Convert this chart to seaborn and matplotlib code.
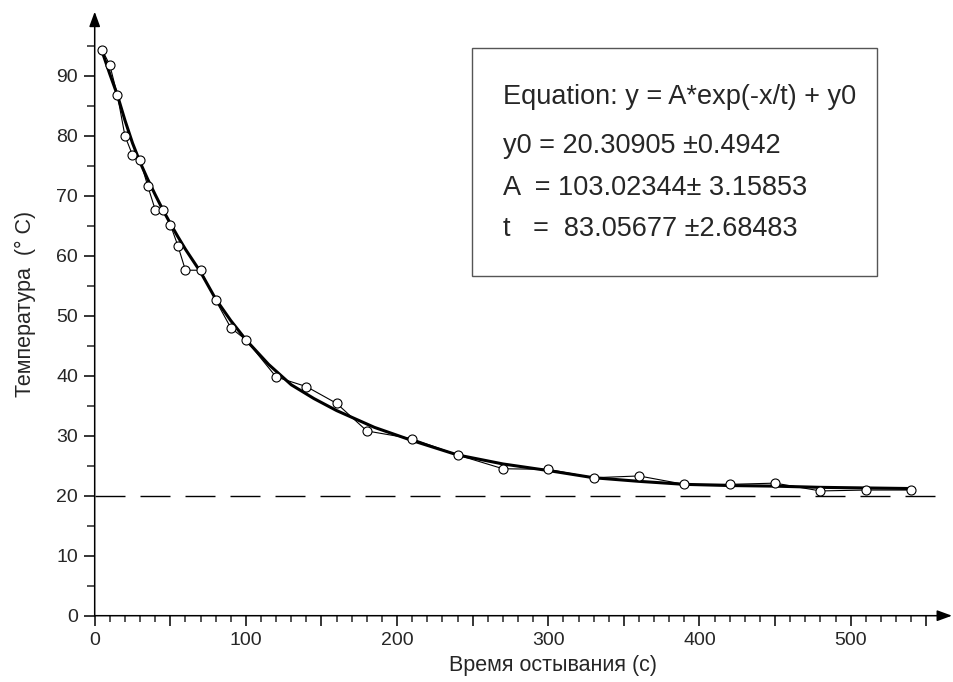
import pandas as pd
import seaborn as sns
from matplotlib import pyplot as plt
from matplotlib.patches import Rectangle
from matplotlib.ticker import FixedLocator

# Данные: время остывания (с) и температура (°C)
time_s = [5, 10, 15, 20, 25, 30, 35, 40, 45, 50, 55, 60, 70, 80, 90, 100,
          120, 140, 160, 180, 210, 240, 270, 300, 330, 360, 390, 420, 450,
          480, 510, 540]
temp_c = [94.3, 91.8, 86.8, 80.0, 76.8, 76.0, 71.7, 67.7, 67.7, 65.2, 61.7,
          57.6, 57.6, 52.6, 48.0, 46.0, 39.8, 38.2, 35.4, 30.8, 29.5, 26.8,
          24.5, 24.4, 23.0, 23.3, 21.9, 21.9, 22.1, 20.8, 20.95, 20.95]

# Аппроксимирующая кривая
fit_time = [5, 10, 15, 20, 25, 30, 35, 40, 45, 50, 55, 60, 70, 80, 90, 100,
            115, 130, 145, 160, 185, 210, 240, 270, 300, 330, 360, 390, 420,
            450, 480, 510, 540]
fit_temp = [94.0, 90.3, 86.8, 82.6, 78.8, 75.6, 72.8, 70.2, 67.7, 65.4, 63.2,
            61.1, 57.3, 52.8, 49.2, 46.0, 41.9, 38.5, 36.2, 34.2, 31.4, 29.2,
            26.8, 25.3, 24.2, 23.0, 22.4, 21.9, 21.7, 21.6, 21.4, 21.3, 21.2]

# Параметры аппроксимации (из рамки на графике)
fit_y0, fit_y0_err = 20.30905, 0.4942
fit_A, fit_A_err = 103.02344, 3.15853
fit_t, fit_t_err = 83.05677, 2.68483
room_temp = 20

df = pd.DataFrame({'t': time_s, 'T': temp_c})
fit_df = pd.DataFrame({'t': fit_time, 'T': fit_temp})

sns.set_style('ticks')
plt.rcParams['font.family'] = ['Liberation Sans', 'DejaVu Sans']

fig = plt.figure(figsize=(9.54, 6.82), dpi=100)
ax = fig.add_axes([94.7 / 954, 66.3 / 682, 857.3 / 954, 604 / 682])

# Комнатная температура (пунктир)
ax.plot([0, 559], [room_temp, room_temp], color='black', linewidth=1,
        linestyle=(0, (21.6, 10.8)), zorder=1)

# Аппроксимирующая кривая и экспериментальные точки
sns.lineplot(data=fit_df, x='t', y='T', color='black', linewidth=2.2, ax=ax,
             zorder=2, solid_joinstyle='round')
sns.lineplot(data=df, x='t', y='T', color='black', linewidth=0.8, marker='o',
             markersize=6.5, markerfacecolor='white', markeredgecolor='black',
             markeredgewidth=0.8, sort=False, ax=ax, zorder=3)

ax.set_xlim(0, 567)
ax.set_ylim(0, 100.7)

x_major = list(range(0, 600, 50))
ax.xaxis.set_major_locator(FixedLocator(x_major))
ax.xaxis.set_minor_locator(FixedLocator([v for v in range(0, 560, 10) if v % 50]))
ax.set_xticklabels([str(v) if v % 100 == 0 else '' for v in x_major])
ax.yaxis.set_major_locator(FixedLocator(list(range(0, 100, 10))))
ax.yaxis.set_minor_locator(FixedLocator([v + 5 for v in range(0, 95, 10)]))

ax.tick_params(axis='both', which='major', labelsize=14, width=1.1, color='black')
ax.tick_params(axis='x', which='major', length=7, pad=5)
ax.tick_params(axis='x', which='minor', length=4.5, width=1.1)
ax.tick_params(axis='y', which='major', length=8, pad=4)
ax.tick_params(axis='y', which='minor', length=6, width=1.1)

ax.set_xlabel('Время остывания (с)', fontsize=15.5)
ax.set_ylabel('Температура  (° C)', fontsize=15.5)
ax.xaxis.set_label_coords(553 / 954, 1 - 665 / 682, transform=fig.transFigure)
ax.yaxis.set_label_coords(25 / 954, 1 - 304 / 682, transform=fig.transFigure)
ax.xaxis.label.set_verticalalignment('center')
ax.yaxis.label.set_verticalalignment('center')

for s in ax.spines.values():
    s.set_visible(False)

# Оси со стрелками
arrow = dict(arrowstyle='-|>,head_length=0.6,head_width=0.22', color='black',
             lw=1.1, shrinkA=0, shrinkB=0, mutation_scale=15)
ax.annotate('', xy=(1, 0), xytext=(0, 0), xycoords='axes fraction',
            textcoords='axes fraction', arrowprops=arrow, annotation_clip=False)
ax.annotate('', xy=(0, 1), xytext=(0, 0), xycoords='axes fraction',
            textcoords='axes fraction', arrowprops=arrow, annotation_clip=False)

# Рамка с уравнением
fig.patches.append(Rectangle((472 / 954, 1 - 276 / 682), 405 / 954, 228 / 682,
                             transform=fig.transFigure, fill=True, facecolor='white',
                             edgecolor='#555555', linewidth=1, zorder=5))
lines = [
    ('Equation: y = A*exp(-x/t) + y0', 97),
    (f'y0 = {fit_y0:.5f} \u00b1{fit_y0_err}', 146),
    (f'A  = {fit_A:.5f}\u00b1 {fit_A_err}', 188),
    (f't   =  {fit_t:.5f} \u00b1{fit_t_err}', 229),
]
for txt, ypx in lines:
    fig.text(503 / 954, 1 - ypx / 682, txt, fontsize=19.5, va='center', ha='left', zorder=6)

fig.savefig('out.png', dpi=100)
